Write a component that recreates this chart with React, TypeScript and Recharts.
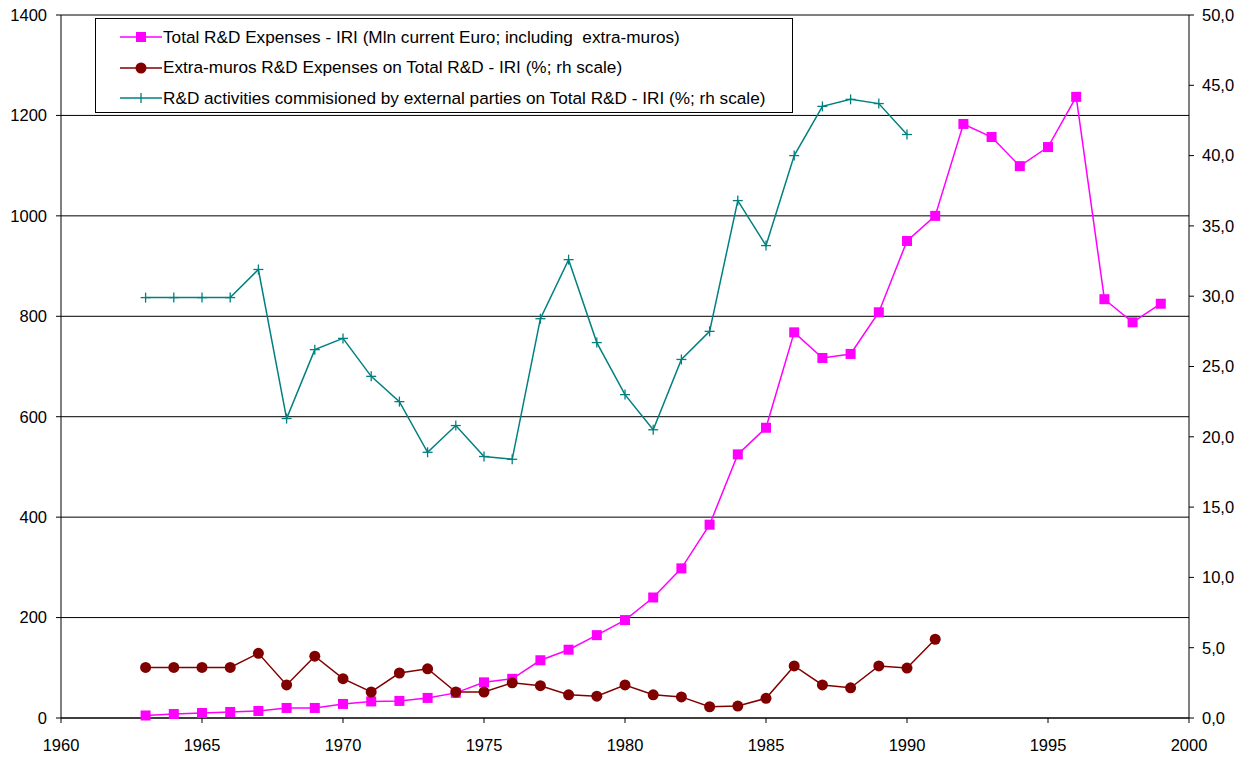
import React from 'react';
import { LineChart, Line, XAxis, YAxis, CartesianGrid } from 'recharts';

const years = [1963,1964,1965,1966,1967,1968,1969,1970,1971,1972,1973,1974,1975,1976,1977,1978,1979,1980,1981,1982,1983,1984,1985,1986,1987,1988,1989,1990,1991,1992,1993,1994,1995,1996,1997,1998,1999];

const totalRD = [5,8,10,12,14,20,20,28,33,34,40,50,71,78,115,136,165,195,240,298,385,525,578,768,717,725,808,950,1000,1183,1157,1099,1137,1237,834,788,825];

const extraMuros = [3.6,3.6,3.6,3.6,4.6,2.35,4.4,2.8,1.85,3.2,3.5,1.85,1.85,2.5,2.3,1.65,1.55,2.35,1.65,1.5,0.8,0.85,1.4,3.7,2.35,2.15,3.7,3.55,5.6];

const commissioned = [29.9,29.9,29.9,29.9,31.9,21.3,26.2,27.0,24.3,22.5,18.9,20.8,18.6,18.4,28.4,32.6,26.7,23.0,20.5,25.5,27.5,36.8,33.6,40.0,43.5,44.0,43.7,41.5];

const xTicks = [1960,1965,1970,1975,1980,1985,1990,1995,2000];
const leftTicks = [0,200,400,600,800,1000,1200,1400];
const rightTicks = [0,5,10,15,20,25,30,35,40,45,50];

const seriesNames = [
  'Total R&D Expenses - IRI (Mln current Euro; including  extra-muros)',
  'Extra-muros R&D Expenses on Total R&D - IRI (%; rh scale)',
  'R&D activities commisioned by external parties on Total R&D - IRI (%; rh scale)',
];

const MAGENTA = '#FF00FF';
const DARKRED = '#800000';
const TEAL = '#008080';

const data = years.map((y, i) => ({
  year: y,
  total: totalRD[i] ?? null,
  extra: i < extraMuros.length ? extraMuros[i] : null,
  comm: i < commissioned.length ? commissioned[i] : null,
}));

const FONT = '"Liberation Sans", Arial, sans-serif';

const SquareDot = (props: any) => {
  const { cx, cy, value } = props;
  if (value == null || cx == null || cy == null) return null;
  return <rect x={cx - 5} y={cy - 5} width={10} height={10} fill={MAGENTA} />;
};

const CircleDot = (props: any) => {
  const { cx, cy, value } = props;
  if (value == null || cx == null || cy == null) return null;
  return <circle cx={cx} cy={cy} r={5.5} fill={DARKRED} />;
};

const PlusDot = (props: any) => {
  const { cx, cy, value } = props;
  if (value == null || cx == null || cy == null) return null;
  return (
    <g stroke={TEAL} strokeWidth={1.3}>
      <line x1={cx - 5} y1={cy} x2={cx + 5} y2={cy} />
      <line x1={cx} y1={cy - 5} x2={cx} y2={cy + 5} />
    </g>
  );
};

const LegendBox = () => {
  const items = [
    { name: seriesNames[0], color: MAGENTA, marker: 'square' },
    { name: seriesNames[1], color: DARKRED, marker: 'circle' },
    { name: seriesNames[2], color: TEAL, marker: 'plus' },
  ];
  return (
    <div
      style={{
        position: 'absolute',
        left: 95,
        top: 18,
        width: 698,
        height: 95,
        border: '1px solid #000',
        background: '#fff',
        boxSizing: 'border-box',
        fontFamily: FONT,
        fontSize: 17.2,
        paddingTop: 3,
      }}
    >
      {items.map((it) => (
        <div key={it.name} style={{ display: 'flex', alignItems: 'center', height: 30.5, paddingLeft: 24 }}>
          <svg width={42} height={14} style={{ marginRight: 1, flexShrink: 0 }}>
            <line x1={0} y1={7} x2={42} y2={7} stroke={it.color} strokeWidth={1.5} />
            {it.marker === 'square' && <rect x={16} y={2} width={10} height={10} fill={it.color} />}
            {it.marker === 'circle' && <circle cx={21} cy={7} r={5.5} fill={it.color} />}
            {it.marker === 'plus' && <line x1={21} y1={2} x2={21} y2={12} stroke={it.color} strokeWidth={1.3} />}
          </svg>
          <span style={{ color: '#000', whiteSpace: 'pre' }}>{it.name}</span>
        </div>
      ))}
    </div>
  );
};

const fmtRight = (v: number) => v.toFixed(1).replace('.', ',');

export default function App() {
  return (
    <div style={{ position: 'absolute', left: 0, top: 0, width: 1250, height: 758, background: '#fff', overflow: 'hidden' }}>
      <LineChart
        width={1250}
        height={758}
        data={data}
        margin={{ top: 15, right: 11, bottom: 0, left: 11 }}
      >
        <CartesianGrid vertical={false} horizontal={true} stroke="#000" strokeWidth={1} yAxisId="left" />
        <XAxis
          dataKey="year"
          type="number"
          domain={[1960, 2000]}
          ticks={xTicks}
          interval={0}
          height={40}
          tickSize={5}
          tickMargin={16}
          axisLine={{ stroke: '#000' }}
          tickLine={{ stroke: '#000' }}
          tick={{ fill: '#000', fontSize: 16.5, fontFamily: FONT }}
          allowDataOverflow
        />
        <YAxis
          yAxisId="left"
          orientation="left"
          domain={[0, 1400]}
          ticks={leftTicks}
          interval={0}
          width={50}
          tickSize={5}
          tickMargin={9}
          axisLine={{ stroke: '#000' }}
          tickLine={{ stroke: '#000' }}
          tick={{ fill: '#000', fontSize: 16.5, fontFamily: FONT }}
        />
        <YAxis
          yAxisId="right"
          orientation="right"
          domain={[0, 50]}
          ticks={rightTicks}
          interval={0}
          width={50}
          tickSize={5}
          tickMargin={8}
          axisLine={{ stroke: '#000' }}
          tickLine={{ stroke: '#000' }}
          tick={{ fill: '#000', fontSize: 16.5, fontFamily: FONT }}
          tickFormatter={fmtRight}
        />
        <Line
          yAxisId="left"
          dataKey="total"
          name={seriesNames[0]}
          stroke={MAGENTA}
          strokeWidth={1.5}
          dot={<SquareDot />}
          activeDot={false}
          isAnimationActive={false}
          connectNulls={false}
        />
        <Line
          yAxisId="right"
          dataKey="extra"
          name={seriesNames[1]}
          stroke={DARKRED}
          strokeWidth={1.5}
          dot={<CircleDot />}
          activeDot={false}
          isAnimationActive={false}
          connectNulls={false}
        />
        <Line
          yAxisId="right"
          dataKey="comm"
          name={seriesNames[2]}
          stroke={TEAL}
          strokeWidth={1.5}
          dot={<PlusDot />}
          activeDot={false}
          isAnimationActive={false}
          connectNulls={false}
        />
      </LineChart>
      <LegendBox />
    </div>
  );
}
